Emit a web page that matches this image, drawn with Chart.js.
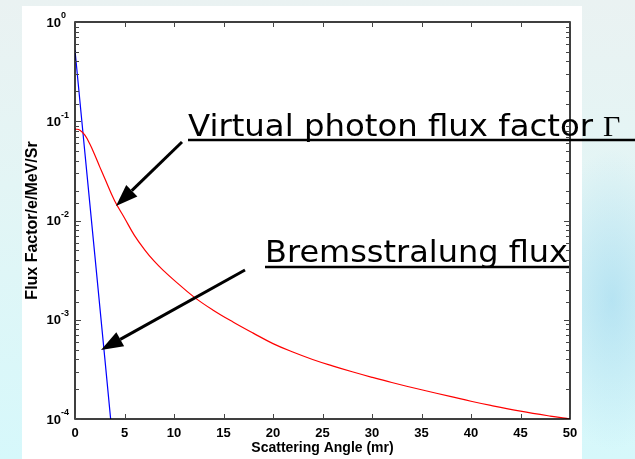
<!DOCTYPE html>
<html>
<head>
<meta charset="utf-8">
<script src="https://cdn.jsdelivr.net/npm/chart.js@4"></script>
<style>
  body {
    margin: 0;
    width: 635px;
    height: 459px;
    overflow: hidden;
    background:
      radial-gradient(ellipse 70px 150px at 612px 300px, rgba(150, 212, 238, 0.55), rgba(150, 212, 238, 0) 100%),
      linear-gradient(#eaf2f2, #e3f5f5 40%, #d6f8fb);
  }
  #wrap { position: relative; width: 635px; height: 459px; }
</style>
</head>
<body>
<div id="wrap"><canvas id="myChart" width="635" height="459"></canvas></div>
<script>
'use strict';
// scattering angle (mr) and flux values
let angleVirtual = [0, 0.5, 1, 1.5, 2, 2.5, 3, 4, 5, 6, 7, 8, 9, 10, 12, 14, 16, 18, 20, 22, 24, 26, 28, 30, 32, 35, 38, 40, 42, 45, 48, 50];
let fluxVirtual = [0.0836, 0.0813, 0.0724, 0.0589, 0.0457, 0.0347, 0.0266, 0.0158, 0.0106, 0.00708, 0.00513, 0.00389, 0.00309, 0.00251, 0.00170, 0.00124, 0.000944, 0.000733, 0.000575, 0.000473, 0.000398, 0.000343, 0.000299, 0.000263, 0.000233, 0.000197, 0.000168, 0.000151, 0.000137, 0.000120, 0.000107, 0.0001];
let angleBrems = [0, 1, 2, 3, 3.6];
let fluxBrems = [0.52, 0.048, 0.0045, 0.00042, 0.0001];
let xTicks = [0, 5, 10, 15, 20, 25, 30, 35, 40, 45, 50];
let yDecades = [0, -1, -2, -3, -4];
let labelVirtual = 'Virtual photon flux factor';
let labelGamma = '\u0393';
let labelBrems = 'Bremsstralung flux';

function toPoints(xs, ys) {
    let pts = [];
    for (let i = 0; i < xs.length; i++) {
        pts.push({ x: xs[i], y: ys[i] });
    }
    return pts;
}

function arrow(ctx, x1, y1, x2, y2) {
    let ang = Math.atan2(y2 - y1, x2 - x1);
    let headLen = 22;
    let headW = 8;
    let bx = x2 - headLen * Math.cos(ang);
    let by = y2 - headLen * Math.sin(ang);
    ctx.strokeStyle = '#000';
    ctx.lineWidth = 3;
    ctx.beginPath();
    ctx.moveTo(x1, y1);
    ctx.lineTo(bx, by);
    ctx.stroke();
    ctx.fillStyle = '#000';
    ctx.beginPath();
    ctx.moveTo(x2, y2);
    ctx.lineTo(bx + headW * Math.sin(ang), by - headW * Math.cos(ang));
    ctx.lineTo(bx - headW * Math.sin(ang), by + headW * Math.cos(ang));
    ctx.closePath();
    ctx.fill();
}

// text squeezed/stretched to a given width
function stretchText(ctx, text, x, y, width) {
    let w = ctx.measureText(text).width;
    ctx.save();
    ctx.translate(x, y);
    ctx.scale(width / w, 1);
    ctx.fillText(text, 0, 0);
    ctx.restore();
}

let panelPlugin = {
    id: 'panel',
    beforeDraw(chart) {
        let ctx = chart.ctx;
        ctx.save();
        ctx.fillStyle = '#fff';
        ctx.fillRect(22, 6, 560, 453);
        ctx.restore();
    },
    afterDatasetsDraw(chart) {
        let ctx = chart.ctx;
        let a = chart.chartArea;
        let xs = chart.scales.x;
        let ys = chart.scales.y;
        ctx.save();
        // box
        ctx.strokeStyle = '#000';
        ctx.lineWidth = 1.5;
        ctx.strokeRect(a.left, a.top, a.right - a.left, a.bottom - a.top);
        // x ticks, inward, top and bottom
        ctx.lineWidth = 1;
        ctx.strokeStyle = '#444';
        ctx.beginPath();
        for (let i = 0; i < xTicks.length; i++) {
            let px = Math.round(xs.getPixelForValue(xTicks[i])) + 0.5;
            ctx.moveTo(px, a.bottom);
            ctx.lineTo(px, a.bottom - 5);
            ctx.moveTo(px, a.top);
            ctx.lineTo(px, a.top + 5);
        }
        // y ticks, log minors from the scale
        for (let i = 0; i < ys.ticks.length; i++) {
            let v = ys.ticks[i].value;
            let lg = Math.log10(v);
            let major = Math.abs(lg - Math.round(lg)) < 1e-9;
            let len = major ? 6 : 4;
            let py = Math.round(ys.getPixelForValue(v)) + 0.5;
            ctx.moveTo(a.left, py);
            ctx.lineTo(a.left + len, py);
            ctx.moveTo(a.right, py);
            ctx.lineTo(a.right - len, py);
        }
        ctx.stroke();
        // x labels
        ctx.fillStyle = '#000';
        ctx.font = 'bold 13px "Liberation Sans", Arial, sans-serif';
        ctx.textAlign = 'center';
        ctx.textBaseline = 'alphabetic';
        for (let i = 0; i < xTicks.length; i++) {
            ctx.fillText(String(xTicks[i]), xs.getPixelForValue(xTicks[i]), 437);
        }
        // y labels 10^n
        ctx.textBaseline = 'middle';
        for (let i = 0; i < yDecades.length; i++) {
            let py = ys.getPixelForValue(Math.pow(10, yDecades[i]));
            ctx.font = 'bold 13px "Liberation Sans", Arial, sans-serif';
            ctx.textAlign = 'right';
            ctx.fillText('10', 61, py + 1);
            ctx.font = 'bold 9px "Liberation Sans", Arial, sans-serif';
            ctx.textAlign = 'left';
            ctx.fillText(String(yDecades[i]), 61, py - 6);
        }
        // annotations
        ctx.textBaseline = 'alphabetic';
        ctx.textAlign = 'left';
        ctx.font = '30px "DejaVu Sans", Verdana, sans-serif';
        stretchText(ctx, labelVirtual, 188, 136, 405);
        stretchText(ctx, labelBrems, 265, 262, 303);
        ctx.font = '30px "Liberation Serif", serif';
        ctx.fillText(labelGamma, 603, 136);
        ctx.lineWidth = 2.5;
        ctx.strokeStyle = '#000';
        ctx.beginPath();
        ctx.moveTo(188, 140);
        ctx.lineTo(635, 140);
        ctx.moveTo(265, 267);
        ctx.lineTo(569, 267);
        ctx.stroke();
        arrow(ctx, 182, 142, 116, 206);
        arrow(ctx, 245, 270, 101, 350);
        ctx.restore();
    }
};

let ctx = document.getElementById('myChart').getContext('2d');
let myChart = new Chart(ctx, {
    type: 'line',
    data: {
        datasets: [{
            label: 'Virtual photon flux factor',
            data: toPoints(angleVirtual, fluxVirtual),
            borderColor: '#ff0000',
            borderWidth: 1.2,
            pointRadius: 0,
            tension: 0.4,
            fill: false
        }, {
            label: 'Bremsstralung flux',
            data: toPoints(angleBrems, fluxBrems),
            borderColor: '#0000ff',
            borderWidth: 1.2,
            pointRadius: 0,
            fill: false
        }]
    },
    options: {
        responsive: false,
        animation: false,
        events: [],
        layout: { padding: { left: 0, top: 22, right: 65, bottom: 0 } },
        plugins: {
            legend: { display: false },
            tooltip: { enabled: false }
        },
        scales: {
            x: {
                type: 'linear',
                min: 0,
                max: 50,
                afterFit: function (scale) { scale.height = 40; },
                grid: { display: false },
                border: { display: false },
                ticks: { display: false },
                title: {
                    display: true,
                    text: 'Scattering Angle (mr)',
                    color: '#000',
                    padding: { top: 0, bottom: 2.5 },
                    font: { family: '"Liberation Sans", Arial, sans-serif', size: 14, weight: 'bold' }
                }
            },
            y: {
                type: 'logarithmic',
                min: 1e-4,
                max: 1,
                afterFit: function (scale) { scale.width = 75; },
                grid: { display: false },
                border: { display: false },
                ticks: { display: false },
                title: {
                    display: true,
                    text: 'Flux Factor/e/MeV/Sr',
                    color: '#000',
                    padding: { top: 23, bottom: 0 },
                    font: { family: '"Liberation Sans", Arial, sans-serif', size: 16, weight: 'bold' }
                }
            }
        }
    },
    plugins: [panelPlugin]
});
</script>
</body>
</html>
